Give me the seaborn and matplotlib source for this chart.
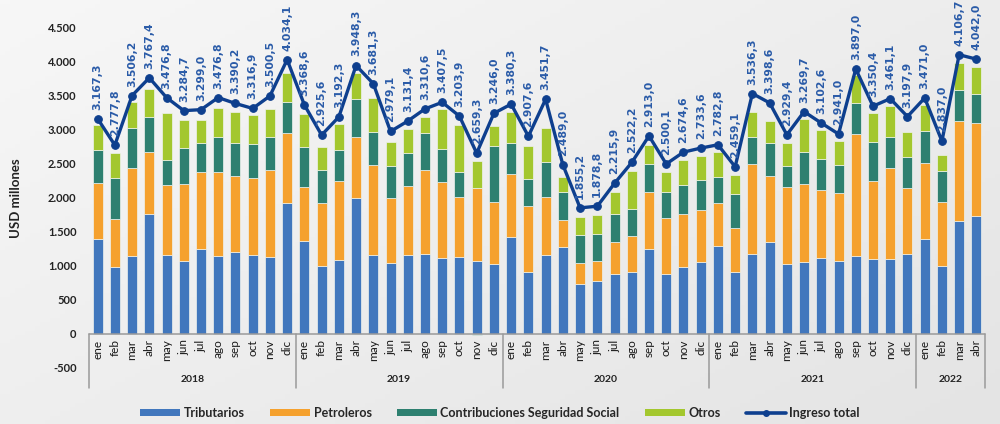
import numpy as np
import pandas as pd
import matplotlib
matplotlib.use("Agg")
import matplotlib.pyplot as plt
import seaborn as sns
from matplotlib.patches import Patch
from matplotlib.lines import Line2D
from matplotlib.colors import LinearSegmentedColormap

# ---------------- data ----------------
month_names = ["ene", "feb", "mar", "abr", "may", "jun", "jul", "ago", "sep", "oct", "nov", "dic"]
year_labels = ["2018", "2019", "2020", "2021", "2022"]
months_per_year = [12, 12, 12, 12, 4]

tributarios = [1390, 985, 1145, 1760, 1166, 1068, 1250, 1142, 1200, 1162, 1132, 1926,
               1372, 1005, 1083, 2000, 1157, 1049, 1166, 1181, 1118, 1137, 1068, 1034,
               1426, 907, 1157, 1284, 735, 784, 882, 907, 1250, 882, 980, 1064,
               1289, 917, 1171, 1348, 1029, 1054, 1113, 1068, 1142, 1098, 1103, 1181,
               1402, 1000, 1657, 1740]
petroleros = [830, 705, 1300, 920, 1020, 1142, 1137, 1235, 1123, 1132, 1280, 1034,
              795, 916, 1162, 902, 1333, 946, 1006, 1236, 1117, 883, 1084, 912,
              929, 975, 853, 392, 314, 294, 466, 529, 840, 819, 790, 755,
              637, 637, 1334, 970, 1128, 1152, 1010, 1010, 1799, 1157, 1338, 971,
              1117, 946, 1475, 1358]
contribuciones = [480, 600, 585, 516, 368, 520, 426, 515, 490, 495, 490, 456,
                  578, 486, 456, 554, 476, 480, 485, 543, 481, 367, -20, 824,
                  455, 393, 520, 407, 402, 388, 417, 397, 408, 392, 421, 451,
                  378, 500, 397, 486, 318, 475, 450, 400, 451, 564, 461, 446,
                  466, 446, 456, 431]
otros = [375, 370, 380, 407, 691, 417, 334, 427, 457, 431, 402, 427,
         490, 338, 382, 377, 509, 353, 358, 236, 593, 687, 392, 290,
         460, 495, 495, 221, 274, 284, 328, 569, 277, 284, 368, 343,
         377, 289, 368, 333, 335, 481, 427, 367, 417, 426, 451, 377,
         383, 245, 392, 393]
ingreso_total = [3167.3, 2777.8, 3506.2, 3767.4, 3476.8, 3284.7, 3299.0, 3476.8, 3390.2, 3316.9, 3500.5, 4034.1,
                 3368.6, 2925.6, 3192.3, 3948.3, 3681.3, 2979.1, 3131.4, 3310.6, 3407.5, 3203.9, 2659.3, 3246.0,
                 3380.3, 2907.6, 3451.7, 2489.0, 1855.2, 1878.8, 2215.9, 2522.2, 2913.0, 2500.1, 2674.6, 2733.6,
                 2782.8, 2459.1, 3536.3, 3398.6, 2929.4, 3269.7, 3102.6, 2941.0, 3897.0, 3350.4, 3461.1, 3197.9,
                 3471.0, 2837.0, 4106.7, 4042.0]

series_names = ["Tributarios", "Petroleros", "Contribuciones Seguridad Social", "Otros"]
series_values = [tributarios, petroleros, contribuciones, otros]
series_colors = ["#4177BD", "#F5A12E", "#2E8070", "#A3C72E"]
line_color = "#0E3F8E"
label_color = "#2A5BA8"

month_labels = []
for n in months_per_year:
    month_labels += month_names[:n]

# ---------------- style ----------------
sns.set_theme(style="white")
plt.rcParams["font.family"] = ["Lato", "DejaVu Sans"]

fig = plt.figure(figsize=(10, 4.24), dpi=100)

# soft grey gradient background
bg = fig.add_axes([0, 0, 1, 1], zorder=-10)
gx, gy = np.meshgrid(np.linspace(0, 1, 200), np.linspace(0, 1, 100))
grad = 0.55 * gx + 0.45 * gy
cmap = LinearSegmentedColormap.from_list("bg", ["#f7f7f7", "#e4e4e4"])
bg.imshow(grad, cmap=cmap, aspect="auto", extent=[0, 1, 0, 1], origin="upper")
bg.axis("off")

ax = fig.add_axes([0.089, 1 - 368 / 424, 0.985 - 0.089, (368 - 28) / 424])
ax.set_facecolor("none")

n = len(month_labels)
idx = np.arange(n)

pos_cum = np.zeros(n)
neg_cum = np.zeros(n)
for name, vals, col in zip(series_names, series_values, series_colors):
    v = np.array(vals, dtype=float)
    bottoms = np.where(v >= 0, pos_cum, neg_cum)
    df = pd.DataFrame({"pos": idx, "val": v})
    sns.barplot(data=df, x="pos", y="val", bottom=bottoms, color=col, width=0.58,
                saturation=1, errorbar=None, ax=ax, edgecolor="#eef2ee",
                linewidth=0.5, zorder=2)
    pos_cum = pos_cum + np.where(v >= 0, v, 0)
    neg_cum = neg_cum + np.where(v < 0, v, 0)

sns.lineplot(x=idx, y=ingreso_total, color=line_color, linewidth=2.4, marker="o",
             markersize=5.5, markeredgecolor=line_color, ax=ax, zorder=5, legend=False)


def es_fmt(v, dec=1):
    s = f"{v:,.{dec}f}"
    return s.replace(",", "X").replace(".", ",").replace("X", ".")


for i, v in enumerate(ingreso_total):
    ax.annotate(es_fmt(v), (i, v), xytext=(0, 6.5), textcoords="offset points",
                rotation=90, ha="center", va="bottom", fontsize=7.8,
                fontweight="bold", color=label_color, family="DejaVu Sans", zorder=6)

ax.set_xlim(-0.5, n - 0.5)
ax.set_ylim(-500, 4500)
yt = np.arange(-500, 4501, 500)
ax.set_yticks(yt)
ax.set_yticklabels([es_fmt(t, 0) for t in yt], fontsize=8, fontweight="bold", color="#222222")
ax.tick_params(axis="y", length=0, pad=9)
ax.set_xticks([])
ax.set_xlabel("")
ax.set_ylabel("USD millones", fontsize=9.5, fontweight="bold", color="#222222")
ax.yaxis.set_label_coords(-0.075, 0.5)
for s in ax.spines.values():
    s.set_visible(False)

# two-level category axis
axis_col = "#9a9a9a"
ax.plot([-0.5, n - 0.5], [0, 0], color=axis_col, lw=1.1, zorder=3, clip_on=False)
for i, m in enumerate(month_labels):
    ax.text(i, -80, m, rotation=90, ha="center", va="top", fontsize=8.5,
            color="#1a1a1a", clip_on=False)
y_bottom = -(388 - 334) / 0.068
boundaries = [-0.5]
start = 0
for yl, cnt in zip(year_labels, months_per_year):
    end = start + cnt
    boundaries.append(end - 0.5)
    ax.text((start + end - 1) / 2, -(380 - 334) / 0.068, yl, ha="center", va="center",
            fontsize=7.5, fontweight="bold", color="#222222", clip_on=False)
    start = end
for b in boundaries:
    ax.plot([b, b], [0, y_bottom], color=axis_col, lw=1.1, clip_on=False, zorder=3)

# legend
handles = [Patch(facecolor=c, edgecolor="none") for c in series_colors]
handles.append(Line2D([0], [0], color=line_color, lw=2.6, marker="o", markersize=4))
labels = series_names + ["Ingreso total"]
fig.legend(handles, labels, loc="center", bbox_to_anchor=(0.5, 1 - 413 / 424), ncol=5,
           frameon=False, handlelength=3.2, handleheight=0.55,
           handletextpad=0.3, columnspacing=2.0, prop={"weight": "bold", "size": 9})

fig.savefig("out.png", dpi=100)
